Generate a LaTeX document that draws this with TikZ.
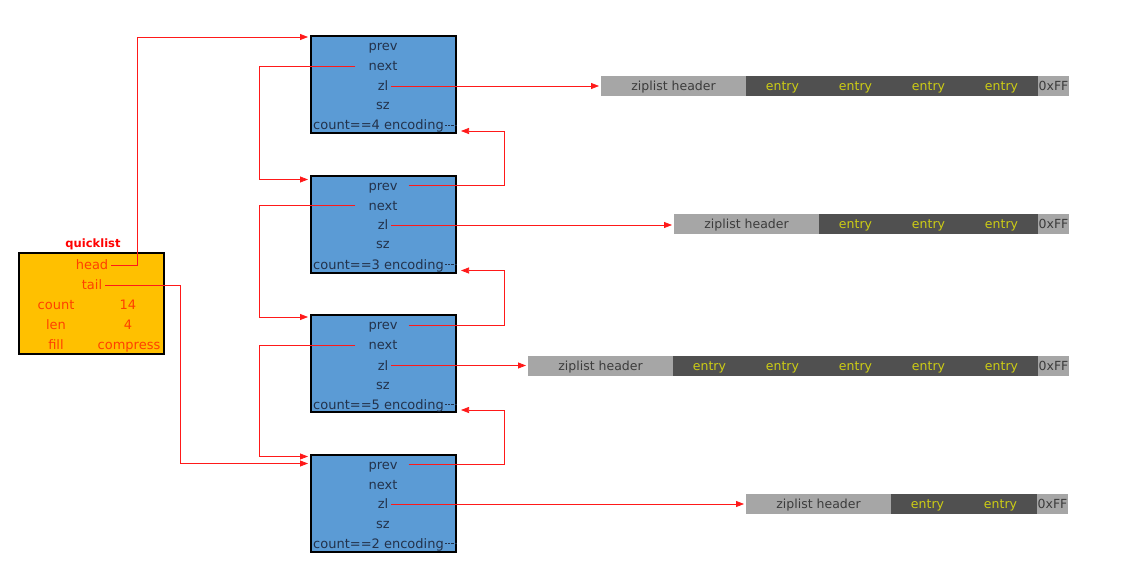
\documentclass[tikz,border=0pt]{standalone}
\usepackage{fontspec}
\setmainfont{DejaVu Sans}
\usetikzlibrary{positioning,arrows.meta}
\definecolor{nodeblue}{RGB}{91,155,213}
\definecolor{qlorange}{RGB}{255,192,0}
\definecolor{fieldcol}{RGB}{35,50,75}
\definecolor{qltext}{RGB}{255,64,0}
\definecolor{hdrgray}{RGB}{166,166,166}
\definecolor{hdrtext}{RGB}{60,60,60}
\definecolor{entrygray}{RGB}{80,80,80}
\definecolor{entrytext}{RGB}{205,205,20}
\begin{document}
\begin{tikzpicture}[x=1pt,y=-1pt,font=\fontsize{13}{15}\selectfont]
\tikzstyle{qlist} = [rectangle, draw=black, line width=2pt, fill=qlorange, minimum width=145pt, minimum height=101pt]
\tikzstyle{qnode} = [rectangle, draw=black, line width=2pt, fill=nodeblue, minimum width=145pt, minimum height=97pt]
\tikzstyle{field} = [text=fieldcol, inner sep=3pt, text height=10pt, text depth=1pt]
\tikzstyle{qfield} = [text=qltext, inner sep=3pt, text height=10pt, text depth=1pt]
\tikzstyle{bar} = [rectangle, minimum height=20pt, inner sep=0pt, outer sep=0pt, text height=9.5pt, text depth=0.5pt, font=\fontsize{12.5}{14}\selectfont]
\tikzstyle{hdr} = [bar, fill=hdrgray, text=hdrtext, minimum width=145pt]
\tikzstyle{entry} = [bar, fill=entrygray, text=entrytext, minimum width=73pt]
\tikzstyle{zlend} = [bar, fill=hdrgray, text=hdrtext, minimum width=31pt]
\tikzstyle{link} = [red!90, line width=0.75pt, -{Triangle[length=8pt,width=6pt]}, shorten >=2pt]
\useasboundingbox (0,0) rectangle (1126,578);

% quicklist
\path
    (91.5,303.5) node[qlist] (ql) {}
    (93,244) node[text=red, font=\fontsize{11.5}{13}\selectfont\bfseries] (qlname) {quicklist}
    (92,265) node[qfield] (head) {head}
    (92,285) node[qfield] (tail) {tail}
    (56,305) node[qfield] (qcount) {count}
    (128,305) node[qfield] (qcountval) {14}
    (56,325) node[qfield] (qlen) {len}
    (128,325) node[qfield] (qlenval) {4}
    (56,345) node[qfield] (qfill) {fill}
    (129,345) node[qfield] (qcompress) {compress};

% quicklistNode boxes
\path
    (383.5,84.5) node[qnode] (node1) {}
    (383,46) node[field] (prev1) {prev}
    (383,66) node[field] (next1) {next}
    (383,86) node[field] (zl1) {zl}
    (383,105) node[field] (sz1) {sz}
    (312,125) node[field, anchor=west, inner sep=1pt] (count1) {count==4 encoding};
\path
    (383.5,224) node[qnode] (node2) {}
    (383,185.5) node[field] (prev2) {prev}
    (383,205.5) node[field] (next2) {next}
    (383,225) node[field] (zl2) {zl}
    (383,244) node[field] (sz2) {sz}
    (312,264.5) node[field, anchor=west, inner sep=1pt] (count2) {count==3 encoding};
\path
    (383.5,363.5) node[qnode] (node3) {}
    (383,325) node[field] (prev3) {prev}
    (383,345) node[field] (next3) {next}
    (383,365.5) node[field] (zl3) {zl}
    (383,384.5) node[field] (sz3) {sz}
    (312,404.5) node[field, anchor=west, inner sep=1pt] (count3) {count==5 encoding};
\path
    (383.5,503) node[qnode] (node4) {}
    (383,464.5) node[field] (prev4) {prev}
    (383,484.5) node[field] (next4) {next}
    (383,504) node[field] (zl4) {zl}
    (383,523.5) node[field] (sz4) {sz}
    (312,543.5) node[field, anchor=west, inner sep=1pt] (count4) {count==2 encoding};

\draw[fieldcol, densely dotted] (count1.east) -- (count1.east -| node1.east);
\draw[fieldcol, densely dotted] (count2.east) -- (count2.east -| node2.east);
\draw[fieldcol, densely dotted] (count3.east) -- (count3.east -| node3.east);
\draw[fieldcol, densely dotted] (count4.east) -- (count4.east -| node4.east);

% ziplists
\node[hdr] (hdr1) at (673.5,86) {ziplist header};
\node[entry, right=0pt of hdr1] (ent11) {entry};
\node[entry, right=0pt of ent11] (ent12) {entry};
\node[entry, right=0pt of ent12] (ent13) {entry};
\node[entry, right=0pt of ent13] (ent14) {entry};
\node[zlend, right=0pt of ent14] (end1) {0xFF};

\node[hdr] (hdr2) at (746.5,224) {ziplist header};
\node[entry, right=0pt of hdr2] (ent21) {entry};
\node[entry, right=0pt of ent21] (ent22) {entry};
\node[entry, right=0pt of ent22] (ent23) {entry};
\node[zlend, right=0pt of ent23] (end2) {0xFF};

\node[hdr] (hdr3) at (600.5,366) {ziplist header};
\node[entry, right=0pt of hdr3] (ent31) {entry};
\node[entry, right=0pt of ent31] (ent32) {entry};
\node[entry, right=0pt of ent32] (ent33) {entry};
\node[entry, right=0pt of ent33] (ent34) {entry};
\node[entry, right=0pt of ent34] (ent35) {entry};
\node[zlend, right=0pt of ent35] (end3) {0xFF};

\node[hdr] (hdr4) at (818.5,504) {ziplist header};
\node[entry, right=0pt of hdr4] (ent41) {entry};
\node[entry, right=0pt of ent41] (ent42) {entry};
\node[zlend, right=0pt of ent42] (end4) {0xFF};

% bus lines
\coordinate (headbus) at (137,0);
\coordinate (tailbus) at (180,0);
\coordinate (nextbus) at (259,0);
\coordinate (prevbus) at (504,0);

\draw [link] (head.east) -- (head.east -| headbus) |- ([yshift=-2pt]node1.north west);
\draw [link] (tail.east) -- (tail.east -| tailbus) |- ([yshift=-10pt]node4.north west);

\draw [link] ([xshift=-10pt]next1.west) -- (next1.west -| nextbus) |- ([yshift=-5pt]node2.north west);
\draw [link] ([xshift=-10pt]next2.west) -- (next2.west -| nextbus) |- ([yshift=-3pt]node3.north west);
\draw [link] ([xshift=-10pt]next3.west) -- (next3.west -| nextbus) |- ([yshift=-3pt]node4.north west);

\draw [link] ([xshift=8pt]prev2.east) -- (prev2.east -| prevbus) |- ([yshift=3pt,xshift=2pt]node1.south east);
\draw [link] ([xshift=8pt]prev3.east) -- (prev3.east -| prevbus) |- ([yshift=3pt,xshift=2pt]node2.south east);
\draw [link] ([xshift=8pt]prev4.east) -- (prev4.east -| prevbus) |- ([yshift=3pt,xshift=2pt]node3.south east);

\draw [link] (zl1.east) -- (zl1.east -| hdr1.west);
\draw [link] (zl2.east) -- (zl2.east -| hdr2.west);
\draw [link] (zl3.east) -- (zl3.east -| hdr3.west);
\draw [link] (zl4.east) -- (zl4.east -| hdr4.west);
\end{tikzpicture}
\end{document}
